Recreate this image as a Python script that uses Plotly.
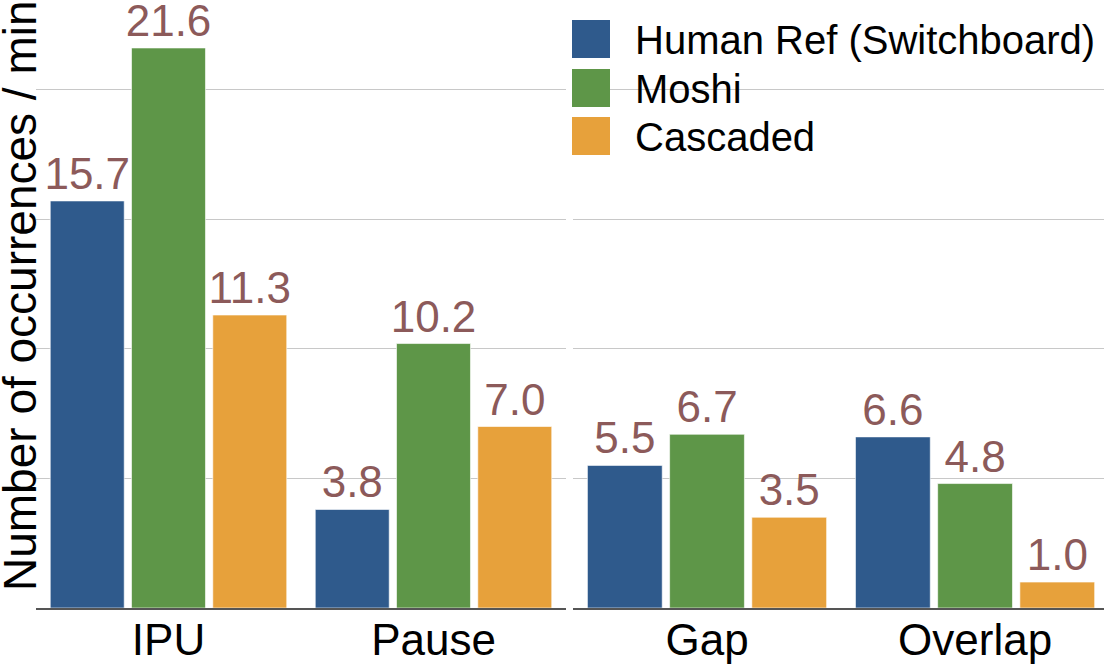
import plotly.graph_objects as go

# ---- data ----
categories_left = ["IPU", "Pause"]
categories_right = ["Gap", "Overlap"]
series_names = ["Human Ref (Switchboard)", "Moshi", "Cascaded"]
human_left = [15.7, 3.8]
human_right = [5.5, 6.6]
moshi_left = [21.6, 10.2]
moshi_right = [6.7, 4.8]
cascaded_left = [11.3, 7.0]
cascaded_right = [3.5, 1.0]
y_gridlines = [5, 10, 15, 20]
y_title = "Number of occurrences / min"

colors = ["#2f5a8c", "#5e9648", "#e7a13b"]
label_color = "#8c5a5a"
FONT = "Liberation Sans, Arial, Helvetica, sans-serif"

left_vals = [human_left, moshi_left, cascaded_left]
right_vals = [human_right, moshi_right, cascaded_right]

W, H = 1104, 665
ml, mr, mt, mb = 36, 0, 0, 57
pw = W - ml - mr
ph = H - mt - mb

def px_x(p):
    return (p - ml) / pw

def px_y(p):
    return (H - mb - p) / ph

fig = go.Figure()
for name, col, lv, rv in zip(series_names, colors, left_vals, right_vals):
    common = dict(
        name=name,
        marker=dict(color=col, line=dict(color="rgba(255,255,255,0.6)", width=1)),
        texttemplate="%{y:.1f}",
        textposition="outside",
        constraintext="none",
        cliponaxis=False,
        textfont=dict(family=FONT, size=44, color=label_color),
        showlegend=False,
    )
    fig.add_trace(go.Bar(x=categories_left, y=lv, xaxis="x", yaxis="y", **common))
    fig.add_trace(go.Bar(x=categories_right, y=rv, xaxis="x2", yaxis="y2", **common))

yrange = [0, 23.45]
xcommon = dict(
    showline=True, linecolor="#555555", linewidth=1.5,
    showgrid=False, zeroline=False, ticks="", ticklen=0, automargin=False,
    ticklabelstandoff=-8,
    tickfont=dict(family=FONT, size=44, color="black"),
)
ycommon = dict(
    range=yrange, tickvals=y_gridlines, showticklabels=False,
    showgrid=True, gridcolor="#c8c8c8", gridwidth=1, automargin=False,
    zeroline=False, showline=False, ticks="",
)

fig.update_layout(
    width=W, height=H,
    margin=dict(l=ml, r=mr, t=mt, b=mb, autoexpand=False),
    paper_bgcolor="white", plot_bgcolor="white",
    barmode="group", bargap=0.08, bargroupgap=0.09,
    xaxis=dict(domain=[0, px_x(566)], range=[-0.5, 1.5], anchor="y", **xcommon),
    xaxis2=dict(domain=[px_x(573), 1], range=[-0.5, 1.481], anchor="y2", **xcommon),
    yaxis=dict(domain=[0, 1], anchor="x", **ycommon),
    yaxis2=dict(domain=[0, 1], anchor="x2", matches="y", **ycommon),
    font=dict(family=FONT),
)

# y-axis title (rotated)
fig.add_annotation(
    text=y_title, textangle=-90, showarrow=False,
    xref="paper", yref="paper", x=px_x(20), y=px_y(296),
    xanchor="center", yanchor="middle",
    font=dict(family=FONT, size=46, color="black"),
)

# custom legend with large swatches
sw_x0, sw_x1 = 572, 610
row_tops = [20, 69, 117]
sw_h = 38
for name, col, top in zip(series_names, colors, row_tops):
    fig.add_shape(
        type="rect", xref="paper", yref="paper",
        x0=px_x(sw_x0), x1=px_x(sw_x1), y0=px_y(top + sw_h), y1=px_y(top),
        fillcolor=col, line=dict(width=0), layer="above",
    )
    fig.add_annotation(
        text=name, showarrow=False, xref="paper", yref="paper",
        x=px_x(633), y=px_y(top + sw_h / 2 + 1), xanchor="left", yanchor="middle",
        font=dict(family=FONT, size=40, color="black"),
    )

fig.write_html(
    "out.html",
    config={"displayModeBar": False},
    post_script="document.body.style.margin='0';document.body.style.overflow='hidden';",
)
